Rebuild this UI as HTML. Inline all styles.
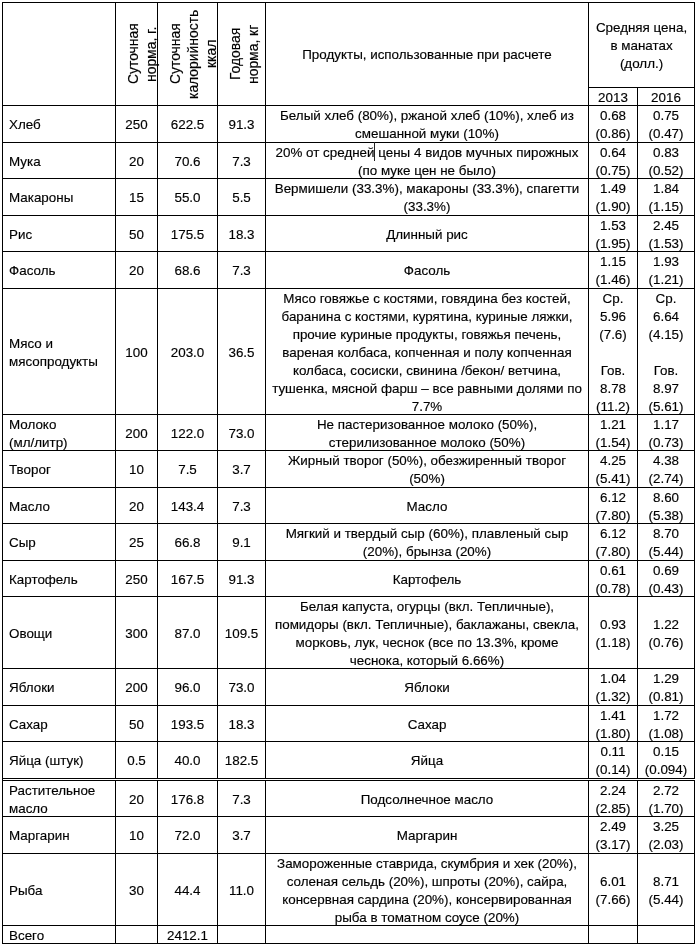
<!DOCTYPE html>
<html lang="ru">
<head>
<meta charset="utf-8">
<title>Продуктовая корзина</title>
<style>
html,body{margin:0;padding:0;background:#fff;}
body{width:699px;height:950px;overflow:hidden;position:relative;
  font-family:"Liberation Sans",sans-serif;font-size:13.4px;line-height:18px;color:#000;-webkit-text-stroke:0.15px #000;}
table{will-change:transform;position:absolute;left:2px;top:2px;width:693px;border-collapse:collapse;table-layout:fixed;}
td,th{border:1px solid #000;padding:0;font-weight:normal;vertical-align:middle;text-align:center;white-space:nowrap;overflow:visible;}
td.n{text-align:left;padding-left:6px;}
td.num,td.p{font-size:13.4px;}
td .w,th .w{display:block;position:relative;top:1px;margin:-4px 0;}
th.rot{position:relative;}
th.rot div{position:absolute;left:8px;top:0;right:-8px;bottom:0;font-size:13.9px;writing-mode:vertical-rl;transform:rotate(180deg);text-align:center;line-height:18px;}
tr.gap td{border-right:0;height:1px;line-height:0;font-size:0;}
i.caret{display:inline-block;width:1px;height:19px;background:#222;vertical-align:top;margin:-2px -0.5px -2px -0.5px;position:relative;left:0px;}
</style>
</head>
<body>
<table>
<colgroup><col style="width:113px"><col style="width:42px"><col style="width:60px"><col style="width:48px"><col style="width:323px"><col style="width:49px"><col style="width:57px"></colgroup>
<thead>
<tr style="height:85px">
<th rowspan="2"></th>
<th rowspan="2" class="rot"><div class="r1">Суточная<br>норма, г.</div></th>
<th rowspan="2" class="rot"><div class="r2">Суточная<br>калорийность<br>ккал</div></th>
<th rowspan="2" class="rot"><div class="r3">Годовая<br>норма, кг</div></th>
<th rowspan="2"><span class="w">Продукты, использованные при расчете</span></th>
<th colspan="2"><span class="w">Средняя цена,<br>в манатах<br>(долл.)</span></th>
</tr>
<tr style="height:18px"><th class="yr"><span class="w">2013</span></th><th class="yr"><span class="w">2016</span></th></tr>
</thead>
<tbody>
<tr style="height:37px">
<td class="n"><span class="w">Хлеб</span></td><td class="num"><span class="w">250</span></td><td class="num"><span class="w">622.5</span></td><td class="num"><span class="w">91.3</span></td>
<td class="pr"><span class="w">Белый хлеб (80%), ржаной хлеб (10%), хлеб из<br>смешанной муки (10%)</span></td>
<td class="p"><span class="w">0.68<br>(0.86)</span></td><td class="p"><span class="w">0.75<br>(0.47)</span></td>
</tr>
<tr style="height:36px">
<td class="n"><span class="w">Мука</span></td><td class="num"><span class="w">20</span></td><td class="num"><span class="w">70.6</span></td><td class="num"><span class="w">7.3</span></td>
<td class="pr"><span class="w">20% от средней<i class="caret"></i> цены 4 видов мучных пирожных<br>(по муке цен не было)</span></td>
<td class="p"><span class="w">0.64<br>(0.75)</span></td><td class="p"><span class="w">0.83<br>(0.52)</span></td>
</tr>
<tr style="height:37px">
<td class="n"><span class="w">Макароны</span></td><td class="num"><span class="w">15</span></td><td class="num"><span class="w">55.0</span></td><td class="num"><span class="w">5.5</span></td>
<td class="pr"><span class="w">Вермишели (33.3%), макароны (33.3%), спагетти<br>(33.3%)</span></td>
<td class="p"><span class="w">1.49<br>(1.90)</span></td><td class="p"><span class="w">1.84<br>(1.15)</span></td>
</tr>
<tr style="height:36px">
<td class="n"><span class="w">Рис</span></td><td class="num"><span class="w">50</span></td><td class="num"><span class="w">175.5</span></td><td class="num"><span class="w">18.3</span></td>
<td class="pr"><span class="w">Длинный рис</span></td>
<td class="p"><span class="w">1.53<br>(1.95)</span></td><td class="p"><span class="w">2.45<br>(1.53)</span></td>
</tr>
<tr style="height:37px">
<td class="n"><span class="w">Фасоль</span></td><td class="num"><span class="w">20</span></td><td class="num"><span class="w">68.6</span></td><td class="num"><span class="w">7.3</span></td>
<td class="pr"><span class="w">Фасоль</span></td>
<td class="p"><span class="w">1.15<br>(1.46)</span></td><td class="p"><span class="w">1.93<br>(1.21)</span></td>
</tr>
<tr style="height:126px">
<td class="n"><span class="w">Мясо и<br>мясопродукты</span></td><td class="num"><span class="w">100</span></td><td class="num"><span class="w">203.0</span></td><td class="num"><span class="w">36.5</span></td>
<td class="pr"><span class="w">Мясо говяжье с костями, говядина без костей,<br>баранина с костями, курятина, куриные ляжки,<br>прочие куриные продукты, говяжья печень,<br>вареная колбаса, копченная и полу копченная<br>колбаса, сосиски, свинина /бекон/ ветчина,<br>тушенка, мясной фарш – все равными долями по<br>7.7%</span></td>
<td class="p"><span class="w">Ср.<br>5.96<br>(7.6)<br>&nbsp;<br>Гов.<br>8.78<br>(11.2)</span></td><td class="p"><span class="w">Ср.<br>6.64<br>(4.15)<br>&nbsp;<br>Гов.<br>8.97<br>(5.61)</span></td>
</tr>
<tr style="height:36px">
<td class="n"><span class="w">Молоко<br>(мл/литр)</span></td><td class="num"><span class="w">200</span></td><td class="num"><span class="w">122.0</span></td><td class="num"><span class="w">73.0</span></td>
<td class="pr"><span class="w">Не пастеризованное молоко (50%),<br>стерилизованное молоко (50%)</span></td>
<td class="p"><span class="w">1.21<br>(1.54)</span></td><td class="p"><span class="w">1.17<br>(0.73)</span></td>
</tr>
<tr style="height:37px">
<td class="n"><span class="w">Творог</span></td><td class="num"><span class="w">10</span></td><td class="num"><span class="w">7.5</span></td><td class="num"><span class="w">3.7</span></td>
<td class="pr"><span class="w">Жирный творог (50%), обезжиренный творог<br>(50%)</span></td>
<td class="p"><span class="w">4.25<br>(5.41)</span></td><td class="p"><span class="w">4.38<br>(2.74)</span></td>
</tr>
<tr style="height:36px">
<td class="n"><span class="w">Масло</span></td><td class="num"><span class="w">20</span></td><td class="num"><span class="w">143.4</span></td><td class="num"><span class="w">7.3</span></td>
<td class="pr"><span class="w">Масло</span></td>
<td class="p"><span class="w">6.12<br>(7.80)</span></td><td class="p"><span class="w">8.60<br>(5.38)</span></td>
</tr>
<tr style="height:37px">
<td class="n"><span class="w">Сыр</span></td><td class="num"><span class="w">25</span></td><td class="num"><span class="w">66.8</span></td><td class="num"><span class="w">9.1</span></td>
<td class="pr"><span class="w">Мягкий и твердый сыр (60%), плавленый сыр<br>(20%), брынза (20%)</span></td>
<td class="p"><span class="w">6.12<br>(7.80)</span></td><td class="p"><span class="w">8.70<br>(5.44)</span></td>
</tr>
<tr style="height:36px">
<td class="n"><span class="w">Картофель</span></td><td class="num"><span class="w">250</span></td><td class="num"><span class="w">167.5</span></td><td class="num"><span class="w">91.3</span></td>
<td class="pr"><span class="w">Картофель</span></td>
<td class="p"><span class="w">0.61<br>(0.78)</span></td><td class="p"><span class="w">0.69<br>(0.43)</span></td>
</tr>
<tr style="height:72px">
<td class="n"><span class="w">Овощи</span></td><td class="num"><span class="w">300</span></td><td class="num"><span class="w">87.0</span></td><td class="num"><span class="w">109.5</span></td>
<td class="pr"><span class="w">Белая капуста, огурцы (вкл. Тепличные),<br>помидоры (вкл. Тепличные), баклажаны, свекла,<br>морковь, лук, чеснок (все по 13.3%, кроме<br>чеснока, который 6.66%)</span></td>
<td class="p"><span class="w">0.93<br>(1.18)</span></td><td class="p"><span class="w">1.22<br>(0.76)</span></td>
</tr>
<tr style="height:37px">
<td class="n"><span class="w">Яблоки</span></td><td class="num"><span class="w">200</span></td><td class="num"><span class="w">96.0</span></td><td class="num"><span class="w">73.0</span></td>
<td class="pr"><span class="w">Яблоки</span></td>
<td class="p"><span class="w">1.04<br>(1.32)</span></td><td class="p"><span class="w">1.29<br>(0.81)</span></td>
</tr>
<tr style="height:36px">
<td class="n"><span class="w">Сахар</span></td><td class="num"><span class="w">50</span></td><td class="num"><span class="w">193.5</span></td><td class="num"><span class="w">18.3</span></td>
<td class="pr"><span class="w">Сахар</span></td>
<td class="p"><span class="w">1.41<br>(1.80)</span></td><td class="p"><span class="w">1.72<br>(1.08)</span></td>
</tr>
<tr style="height:37px">
<td class="n"><span class="w">Яйца (штук)</span></td><td class="num"><span class="w">0.5</span></td><td class="num"><span class="w">40.0</span></td><td class="num"><span class="w">182.5</span></td>
<td class="pr"><span class="w">Яйца</span></td>
<td class="p"><span class="w">0.11<br>(0.14)</span></td><td class="p"><span class="w">0.15<br>(0.094)</span></td>
</tr>
<tr class="gap" style="height:2px"><td colspan="7"></td></tr>
<tr style="height:36px">
<td class="n"><span class="w">Растительное<br>масло</span></td><td class="num"><span class="w">20</span></td><td class="num"><span class="w">176.8</span></td><td class="num"><span class="w">7.3</span></td>
<td class="pr"><span class="w">Подсолнечное масло</span></td>
<td class="p"><span class="w">2.24<br>(2.85)</span></td><td class="p"><span class="w">2.72<br>(1.70)</span></td>
</tr>
<tr style="height:37px">
<td class="n"><span class="w">Маргарин</span></td><td class="num"><span class="w">10</span></td><td class="num"><span class="w">72.0</span></td><td class="num"><span class="w">3.7</span></td>
<td class="pr"><span class="w">Маргарин</span></td>
<td class="p"><span class="w">2.49<br>(3.17)</span></td><td class="p"><span class="w">3.25<br>(2.03)</span></td>
</tr>
<tr style="height:72px">
<td class="n"><span class="w">Рыба</span></td><td class="num"><span class="w">30</span></td><td class="num"><span class="w">44.4</span></td><td class="num"><span class="w">11.0</span></td>
<td class="pr"><span class="w">Замороженные ставрида, скумбрия и хек (20%),<br>соленая сельдь (20%), шпроты (20%), сайра,<br>консервная сардина (20%), консервированная<br>рыба в томатном соусе (20%)</span></td>
<td class="p"><span class="w">6.01<br>(7.66)</span></td><td class="p"><span class="w">8.71<br>(5.44)</span></td>
</tr>
<tr style="height:18px"><td class="n"><span class="w">Всего</span></td><td></td><td class="num"><span class="w">2412.1</span></td><td></td><td></td><td></td><td></td></tr>
</tbody>
</table>
</body>
</html>
